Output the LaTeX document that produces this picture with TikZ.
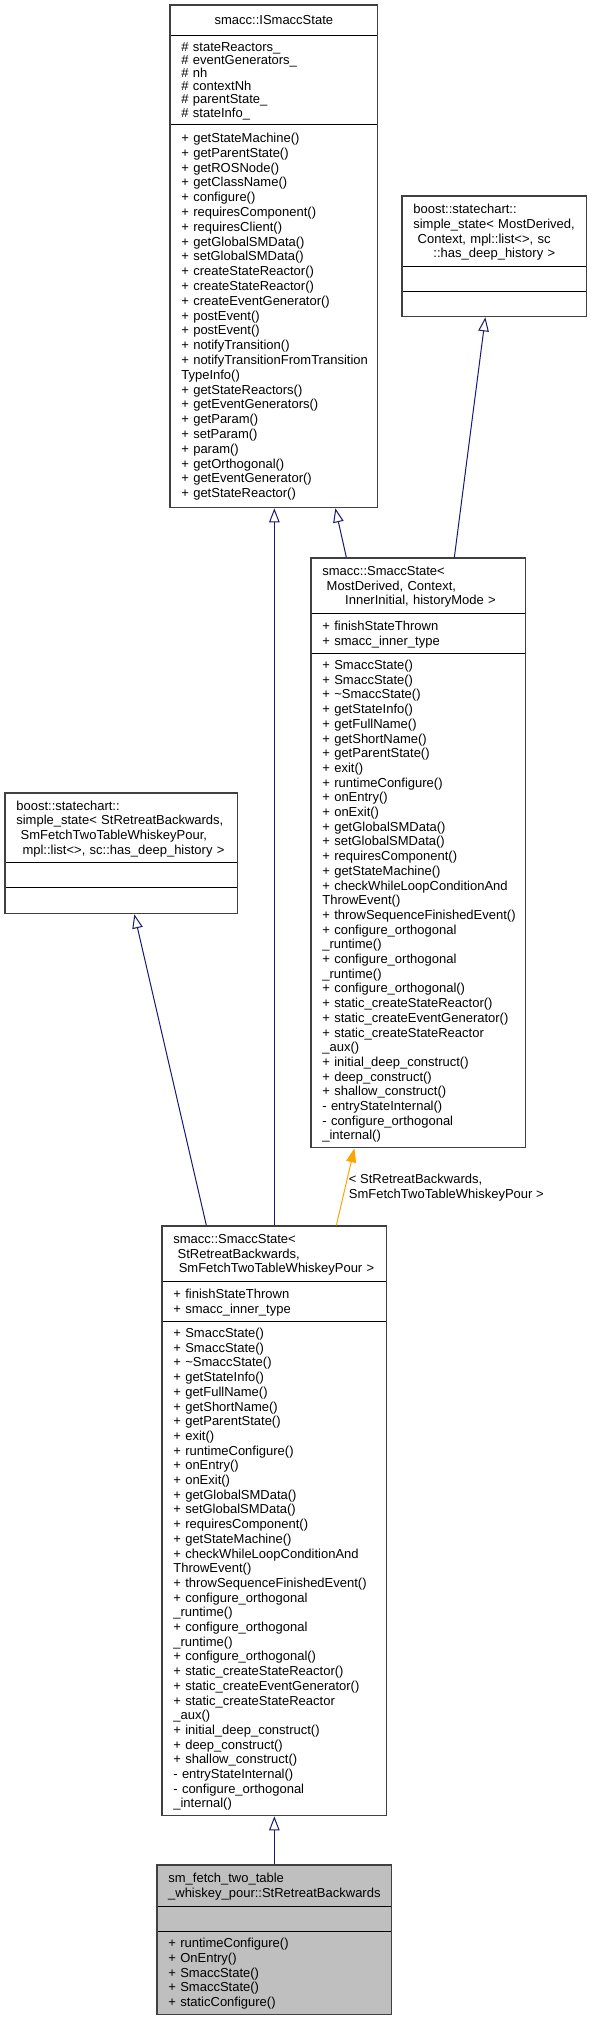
\documentclass[tikz,border=0pt]{standalone}
\usepackage{fontspec}
\newfontfamily\dxfont{Liberation Sans}
\usetikzlibrary{arrows.meta,fit}
\definecolor{edgeblue}{HTML}{191970}
\definecolor{edgeorange}{HTML}{FFA500}
\definecolor{curgray}{HTML}{BFBFBF}
\definecolor{framegray}{HTML}{404040}
\newcommand\fst{\rule{0pt}{11.75pt}}
\newcommand\lst{\rule[-2.95pt]{0pt}{2.95pt}}
\newcommand\lastline[1]{\makebox[\linewidth]{#1\lst}}
\newcommand\smaccmethods{\fst+~SmaccState()\\+~SmaccState()\\+~\textasciitilde SmaccState()\\+~getStateInfo()\\+~getFullName()\\+~getShortName()\\+~getParentState()\\+~exit()\\+~runtimeConfigure()\\+~onEntry()\\+~onExit()\\+~getGlobalSMData()\\+~setGlobalSMData()\\+~requiresComponent()\\+~getStateMachine()\\+~checkWhileLoopConditionAnd\\ThrowEvent()\\+~throwSequenceFinishedEvent()\\+~configure\_orthogonal\\\_runtime()\\+~configure\_orthogonal\\\_runtime()\\+~configure\_orthogonal()\\+~static\_createStateReactor()\\+~static\_createEventGenerator()\\+~static\_createStateReactor\\\_aux()\\+~initial\_deep\_construct()\\+~deep\_construct()\\+~shallow\_construct()\\-~entryStateInternal()\\-~configure\_orthogonal\\\_internal()\lst}
\tikzset{
  sec/.style={draw=black, line width=0.7pt, fill=white, anchor=north west,
    inner xsep=11pt, inner ysep=0pt, align=left,
    font=\dxfont\fontsize{13}{14.7}\selectfont,
    execute at begin node={\hyphenpenalty=10000 \exhyphenpenalty=10000 }},
  cursec/.style={sec, fill=curgray},
  frame/.style={draw=framegray, line width=1.3pt, inner sep=0pt},
  inh/.style={draw=edgeblue, line width=1pt, -{Triangle[open, length=14pt, width=10.5pt]}},
  tmpl/.style={draw=edgeorange, line width=1pt, -{Triangle[length=14pt, width=10pt]}},
  elabel/.style={anchor=west, inner sep=0pt, xshift=3pt, align=left,
    font=\dxfont\fontsize{13}{14.7}\selectfont}
}
\begin{document}
\begin{tikzpicture}[x=1pt, y=-1pt]
\useasboundingbox (0,0) rectangle (591,2021);

% smacc::ISmaccState
\node[sec, text width=185pt, minimum height=30pt] (Atitle) at (170,5) {\fst\lastline{smacc::ISmaccState}};
\node[sec, text width=185pt, minimum height=88.5pt] (Aattr) at (170,35)
 {\baselineskip=13.2pt\fst\#~stateReactors\_\\\#~eventGenerators\_\\\#~nh\\\#~contextNh\\\#~parentState\_\\\#~stateInfo\_\lst\par};
\node[sec, text width=185pt, minimum height=383.5pt] (Ameth) at (170,123.5)
 {\baselineskip=14.8pt\fst+~getStateMachine()\\+~getParentState()\\+~getROSNode()\\+~getClassName()\\+~configure()\\+~requiresComponent()\\+~requiresClient()\\+~getGlobalSMData()\\+~setGlobalSMData()\\+~createStateReactor()\\+~createStateReactor()\\+~createEventGenerator()\\+~postEvent()\\+~postEvent()\\+~notifyTransition()\\+~notifyTransitionFromTransition\\TypeInfo()\\+~getStateReactors()\\+~getEventGenerators()\\+~getParam()\\+~setParam()\\+~param()\\+~getOrthogonal()\\+~getEventGenerator()\\+~getStateReactor()\lst\par};
\node[frame, fit=(Atitle)(Ameth)] (A) {};

% boost simple_state (generic)
\node[sec, text width=162pt, minimum height=70pt] (Btitle) at (402,196)
 {\fst boost::statechart::\\simple\_state<~MostDerived,\\~Context,~mpl::list<>,~sc\\\lastline{::has\_deep\_history~>}};
\node[sec, text width=162pt, minimum height=25pt] (Battr) at (402,266) {};
\node[sec, text width=162pt, minimum height=25pt] (Bmeth) at (402,291) {};
\node[frame, fit=(Btitle)(Bmeth)] (B) {};

% smacc::SmaccState generic
\node[sec, text width=192pt, minimum height=55pt] (Ctitle) at (311,558)
 {\fst smacc::SmaccState<\\~MostDerived,~Context,\\\lastline{~InnerInitial,~historyMode~>}};
\node[sec, text width=192pt, minimum height=40pt] (Cattr) at (311,613)
 {\fst+~finishStateThrown\\+~smacc\_inner\_type\lst};
\node[sec, text width=192pt, minimum height=494pt] (Cmeth) at (311,653) {\smaccmethods};
\node[frame, fit=(Ctitle)(Cmeth)] (C) {};

% boost simple_state (instantiated)
\node[sec, text width=210pt, minimum height=69pt] (Dtitle) at (5,793)
 {\fst boost::statechart::\\simple\_state<~StRetreatBackwards,\\~SmFetchTwoTableWhiskeyPour,\\\lastline{~mpl::list<>,~sc::has\_deep\_history~>}};
\node[sec, text width=210pt, minimum height=25pt] (Dattr) at (5,862) {};
\node[sec, text width=210pt, minimum height=26pt] (Dmeth) at (5,887) {};
\node[frame, fit=(Dtitle)(Dmeth)] (D) {};

% smacc::SmaccState instantiated
\node[sec, text width=202pt, minimum height=55pt] (Etitle) at (162,1226)
 {\fst smacc::SmaccState<\\~StRetreatBackwards,\\\lastline{~SmFetchTwoTableWhiskeyPour~>}};
\node[sec, text width=202pt, minimum height=40pt] (Eattr) at (162,1281)
 {\fst+~finishStateThrown\\+~smacc\_inner\_type\lst};
\node[sec, text width=202pt, minimum height=494pt] (Emeth) at (162,1321) {\smaccmethods};
\node[frame, fit=(Etitle)(Emeth)] (E) {};

% current class
\node[cursec, text width=212pt, minimum height=41pt] (Ftitle) at (157,1865)
 {\fst sm\_fetch\_two\_table\\\lastline{\_whiskey\_pour::StRetreatBackwards}};
\node[cursec, text width=212pt, minimum height=25pt] (Fattr) at (157,1906) {};
\node[cursec, text width=212pt, minimum height=83pt] (Fmeth) at (157,1931)
 {\fst+~runtimeConfigure()\\+~OnEntry()\\+~SmaccState()\\+~SmaccState()\\+~staticConfigure()\lst};
\node[frame, fit=(Ftitle)(Fmeth)] (F) {};

% connectors
\draw[inh] (E.north) -- (E.north |- A.south);
\draw[inh] ([xshift=36pt]C.north west) -- ([xshift=166pt]A.south west);
\draw[inh] ([xshift=144pt]C.north west) -- ([xshift=84pt]B.south west);
\draw[inh] ([xshift=45pt]E.north west) -- ([xshift=130pt]D.south west);
\draw[tmpl] ([xshift=175pt]E.north west) -- node[elabel, pos=0.506]
 {\fst<~StRetreatBackwards,\\SmFetchTwoTableWhiskeyPour~>\lst} ([xshift=44pt]C.south west);
\draw[inh] (F.north) -- (E.south);
\end{tikzpicture}
\end{document}
